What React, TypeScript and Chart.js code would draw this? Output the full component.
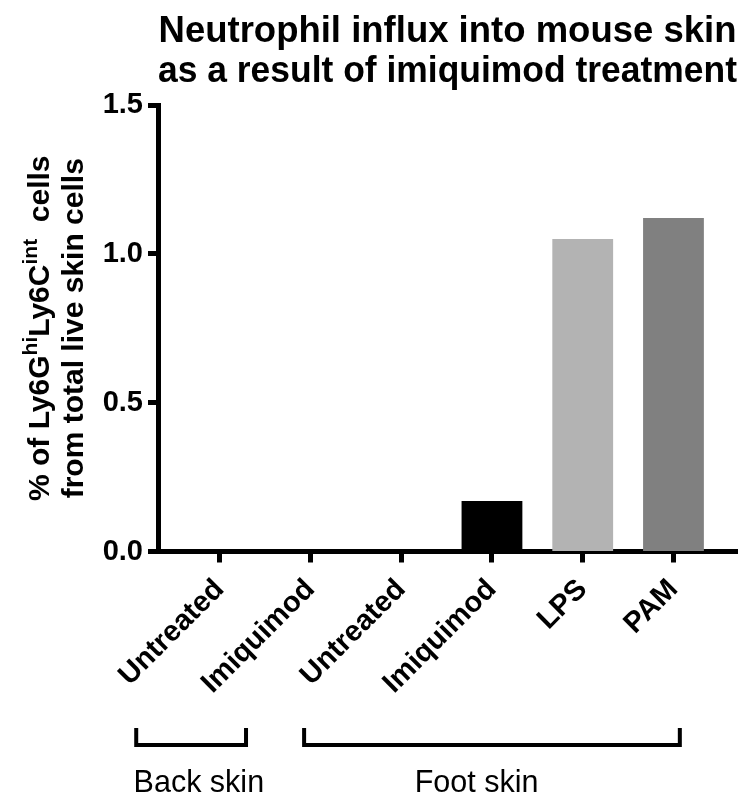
import React, { useEffect, useRef } from 'react';
import { Chart, registerables } from 'chart.js';

Chart.register(...registerables);

const FONT = "'Liberation Sans', Arial, Helvetica, sans-serif";

const titleLines = ['Neutrophil influx into mouse skin', 'as a result of imiquimod treatment'];
const categories = ['Untreated', 'Imiquimod', 'Untreated', 'Imiquimod', 'LPS', 'PAM'];
const values = [0, 0, 0, 0.17, 1.05, 1.12];
const barColors = ['#000000', '#000000', '#000000', '#000000', '#b3b3b3', '#808080'];
const yTicks = [0, 0.5, 1.0, 1.5];
const yTitleLine1 = [
  { text: '% of Ly6G', sup: false },
  { text: 'hi', sup: true },
  { text: 'Ly6C', sup: false },
  { text: 'int', sup: true },
  { text: '  cells', sup: false },
];
const yTitleLine2 = 'from total live skin cells';
const groupLabels = ['Back skin', 'Foot skin'];
const groupStarts = [-0.92, 0.93];
const groupEnds = [0.29, 5.07];
const groupLabelCenters = [-0.23, 2.83];

export default function App() {
  const ref = useRef<HTMLCanvasElement>(null);

  useEffect(() => {
    const canvas = ref.current;
    if (!canvas) return;
    Chart.defaults.font.family = FONT;

    const annot = {
      id: 'annot',
      afterDraw(chart: any) {
        const ctx = chart.ctx as CanvasRenderingContext2D;
        const area = chart.chartArea;
        const xs = chart.scales.x;
        ctx.save();
        ctx.fillStyle = '#000';
        ctx.strokeStyle = '#000';
        const big = `bold 30px ${FONT}`;
        const small = `bold 21px ${FONT}`;
        ctx.textBaseline = 'alphabetic';
        ctx.textAlign = 'left';
        const cy = (area.top + area.bottom) / 2;

        // close the corner where the two axis lines meet
        ctx.fillRect(area.left - 2.5, area.bottom - 2.5, 5, 5);

        // y title line 1 with superscripts
        let total = 0;
        for (const s of yTitleLine1) {
          ctx.font = s.sup ? small : big;
          total += ctx.measureText(s.text).width;
        }
        ctx.save();
        ctx.translate(area.left - 109, cy);
        ctx.rotate(-Math.PI / 2);
        let x = -total / 2;
        for (const s of yTitleLine1) {
          ctx.font = s.sup ? small : big;
          ctx.fillText(s.text, x, s.sup ? -12 : 0);
          x += ctx.measureText(s.text).width;
        }
        ctx.restore();

        // y title line 2
        ctx.save();
        ctx.translate(area.left - 75, cy);
        ctx.rotate(-Math.PI / 2);
        ctx.font = big;
        ctx.textAlign = 'center';
        ctx.fillText(yTitleLine2, 0, 0);
        ctx.restore();

        // group brackets
        const top = area.bottom + 176.5;
        const bot = area.bottom + 193.5;
        ctx.lineWidth = 4;
        ctx.lineJoin = 'miter';
        for (let i = 0; i < groupLabels.length; i++) {
          const x1 = xs.getPixelForValue(groupStarts[i]);
          const x2 = xs.getPixelForValue(groupEnds[i]);
          ctx.beginPath();
          ctx.moveTo(x1, top);
          ctx.lineTo(x1, bot);
          ctx.lineTo(x2, bot);
          ctx.lineTo(x2, top);
          ctx.stroke();
          ctx.font = `30.5px ${FONT}`;
          ctx.textAlign = 'center';
          ctx.fillText(groupLabels[i], xs.getPixelForValue(groupLabelCenters[i]), area.bottom + 240);
        }
        ctx.restore();
      },
    };

    const chart = new Chart(canvas, {
      type: 'bar',
      data: {
        datasets: [
          {
            data: values.map((v, i) => ({ x: i, y: v })),
            backgroundColor: barColors,
            borderWidth: 0,
            categoryPercentage: 1,
            barPercentage: 0.67,
          },
        ],
      },
      options: {
        responsive: true,
        maintainAspectRatio: false,
        animation: false,
        devicePixelRatio: 1,
        layout: { padding: { left: 0, right: 15, top: 0, bottom: 0 } },
        plugins: {
          legend: { display: false },
          tooltip: { enabled: false },
          title: {
            display: true,
            text: titleLines,
            fullSize: false,
            color: '#000',
            font: { size: 36.5, weight: 'bold', lineHeight: 1.1 },
            padding: { top: 12, bottom: 12.7 },
          },
        },
        scales: {
          x: {
            type: 'linear',
            offset: false,
            min: -0.68,
            max: 5.7,
            afterBuildTicks: (s: any) => {
              s.ticks = categories.map((_, i) => ({ value: i }));
            },
            afterFit: (s: any) => {
              s.height = 246.5;
            },
            ticks: {
              callback: (v: any) => categories[v as number],
              font: { size: 29, weight: 'bold' },
              color: '#000',
              minRotation: 45,
              maxRotation: 45,
              autoSkip: false,
              padding: 10,
            },
            grid: {
              display: true,
              offset: false,
              drawOnChartArea: false,
              drawTicks: true,
              tickLength: 11,
              tickWidth: 5,
              tickColor: '#000',
            },
            border: { display: true, width: 5, color: '#000' },
          },
          y: {
            type: 'linear',
            min: 0,
            max: 1.5,
            afterBuildTicks: (s: any) => {
              s.ticks = yTicks.map((v) => ({ value: v }));
            },
            afterFit: (s: any) => {
              s.width = 158;
            },
            ticks: {
              callback: (v: any) => Number(v).toFixed(1),
              font: { size: 29, weight: 'bold' },
              color: '#000',
              padding: 5,
            },
            grid: {
              display: true,
              drawOnChartArea: false,
              drawTicks: true,
              tickLength: 10,
              tickWidth: 5,
              tickColor: '#000',
            },
            border: { display: true, width: 5, color: '#000' },
          },
        },
      },
      plugins: [annot],
    } as any);

    return () => chart.destroy();
  }, []);

  return (
    <div style={{ position: 'fixed', left: 0, top: 0, width: 752, height: 798, background: '#fff' }}>
      <canvas ref={ref} style={{ display: 'block' }} />
    </div>
  );
}
